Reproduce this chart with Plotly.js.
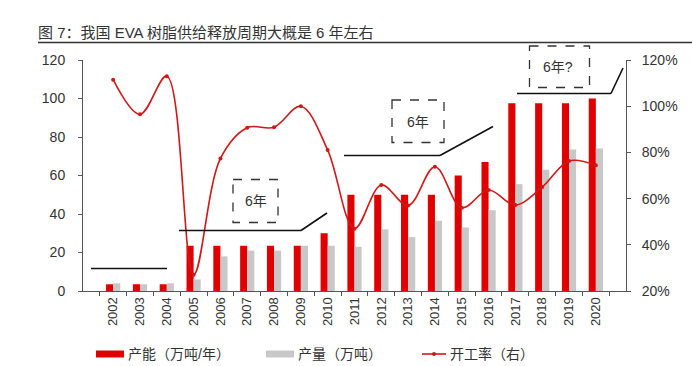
<!DOCTYPE html>
<html>
<head>
<meta charset="utf-8">
<script src="https://cdn.plot.ly/plotly-3.0.1.min.js"></script>
<style>html,body{margin:0;padding:0;background:#fff}#chart{width:692px;height:366px}</style>
</head>
<body>
<div id="chart"></div>
<script>
// ---- data ----
var years = ['2002','2003','2004','2005','2006','2007','2008','2009','2010','2011','2012','2013','2014','2015','2016','2017','2018','2019','2020'];
var capacity = [3.5, 3.5, 3.5, 23.5, 23.5, 23.5, 23.5, 23.5, 30, 50, 50, 50, 50, 60, 67, 97.5, 97.5, 97.5, 100];
var output = [4, 3.5, 4, 6, 18, 21, 21, 23.5, 23.5, 23, 32, 28, 36.5, 33, 42, 55.5, 63, 73.5, 74];
var rate = [111.5, 96.5, 113, 27, 77.4, 90.7, 90.9, 100, 81, 47, 65.9, 57, 73.8, 56, 63.7, 57.2, 65, 76.3, 74.4];
var seriesNames = ['产能（万吨/年）', '产量（万吨）', '开工率（右）'];
var titleText = '图 7：我国 EVA 树脂供给释放周期大概是 6 年左右';

// ---- layout helpers (pixel -> paper) ----
var L = 83, R = 626, T = 60, B = 291;
function px(x){ return (x - L) / (R - L); }
function py(y){ return (B - y) / (B - T); }

var FONT = 'Liberation Sans, Arial, Noto Sans CJK SC, sans-serif';
var RED = '#e00000', GRAY = '#c8c8c8', LINE = '#d01818', INK = '#333333';

var traces = [
  {type:'bar', name:seriesNames[0], x:years, y:capacity, marker:{color:RED}, yaxis:'y', showlegend:false},
  {type:'bar', name:seriesNames[1], x:years, y:output, marker:{color:GRAY}, yaxis:'y', showlegend:false},
  {type:'scatter', mode:'lines+markers', name:seriesNames[2], x:years, y:rate, yaxis:'y2',
   line:{color:LINE, width:1.6, shape:'spline', smoothing:1}, marker:{color:LINE, size:4}, showlegend:false}
];

function seg(x0,y0,x1,y1,extra){
  var s = {type:'line', xref:'paper', yref:'paper', x0:px(x0), y0:py(y0), x1:px(x1), y1:py(y1), line:{color:'#111', width:1.6}};
  if (extra) for (var k in extra) s[k]=extra[k];
  return s;
}
function box(x0,y0,x1,y1){
  return {type:'rect', xref:'paper', yref:'paper', x0:px(x0), y0:py(y0), x1:px(x1), y1:py(y1), line:{color:'#333', width:1.3, dash:'dash'}, fillcolor:'rgba(0,0,0,0)'};
}

var shapes = [
  // title underline
  {type:'line', xref:'paper', yref:'paper', x0:px(38), y0:py(42.5), x1:px(692), y1:py(42.5), line:{color:'#333', width:1.5}},
  // cycle lines
  seg(91,268.5,167,268.5),
  seg(179,230.5,301,230.5), seg(301,230.5,327,213),
  seg(344,155.5,440,155.5), seg(440,155.5,493,126.5),
  seg(517,93.5,611,93.5), seg(611,93.5,623,68),
  // dashed boxes
  box(233,179.5,278,222.5),
  box(392,100,444,142.5),
  box(529.5,46,589.5,87.5),
  // legend swatches
  {type:'rect', xref:'paper', yref:'paper', x0:px(96), x1:px(124), y0:py(350.5), y1:py(357.5), line:{width:0}, fillcolor:RED},
  {type:'rect', xref:'paper', yref:'paper', x0:px(266), x1:px(294), y0:py(350.5), y1:py(357.5), line:{width:0}, fillcolor:GRAY},
  {type:'line', xref:'paper', yref:'paper', x0:px(422), x1:px(446), y0:py(354), y1:py(354), line:{color:LINE, width:1.6}},
  {type:'circle', xref:'paper', yref:'paper', x0:px(432), x1:px(436), y0:py(352), y1:py(356), line:{width:0}, fillcolor:LINE}
];

function txt(x,y,t,anchor){
  return {xref:'paper', yref:'paper', x:px(x), y:py(y), text:t, showarrow:false, xanchor:anchor||'center', yanchor:'middle',
          font:{family:FONT, size:14, color:INK}};
}
var annotations = [
  txt(255.5,201,'6年'),
  txt(418,121.5,'6年'),
  txt(558,66.5,'6年?'),
  txt(126,354,seriesNames[0],'left'),
  txt(296,354,seriesNames[1],'left'),
  txt(448,354,seriesNames[2],'left')
];

var layout = {
  width:692, height:366,
  margin:{l:L, r:692-R, t:T, b:366-B, pad:0},
  paper_bgcolor:'#fff', plot_bgcolor:'#fff',
  font:{family:FONT, size:13, color:INK},
  title:{text:titleText, x:38/692, xanchor:'left', xref:'container', y:1-33/366, yanchor:'middle', yref:'container',
         font:{family:FONT, size:15, color:INK}},
  barmode:'group', bargap:0.47, bargroupgap:0,
  showlegend:false,
  xaxis:{type:'category', tickangle:-90, showline:true, linecolor:'#555', linewidth:1, ticks:'outside', tickson:'boundaries',
         ticklen:4, tickcolor:'#555', showgrid:false, zeroline:false, tickfont:{family:FONT, size:13, color:INK}},
  yaxis:{range:[0,120], dtick:20, showline:true, linecolor:'#555', linewidth:1, ticks:'outside', ticklen:4, tickcolor:'#555',
         showgrid:false, zeroline:false, tickfont:{family:FONT, size:14, color:INK}, ticklabelstandoff:10},
  yaxis2:{range:[20,120], dtick:20, ticksuffix:'%', overlaying:'y', side:'right', showline:true, linecolor:'#555', linewidth:1,
          ticks:'outside', ticklen:4, tickcolor:'#555', showgrid:false, zeroline:false, tickfont:{family:FONT, size:14, color:INK},
          ticklabelstandoff:8},
  shapes:shapes,
  annotations:annotations
};

Plotly.newPlot('chart', traces, layout, {staticPlot:true, displayModeBar:false});
</script>
</body>
</html>
